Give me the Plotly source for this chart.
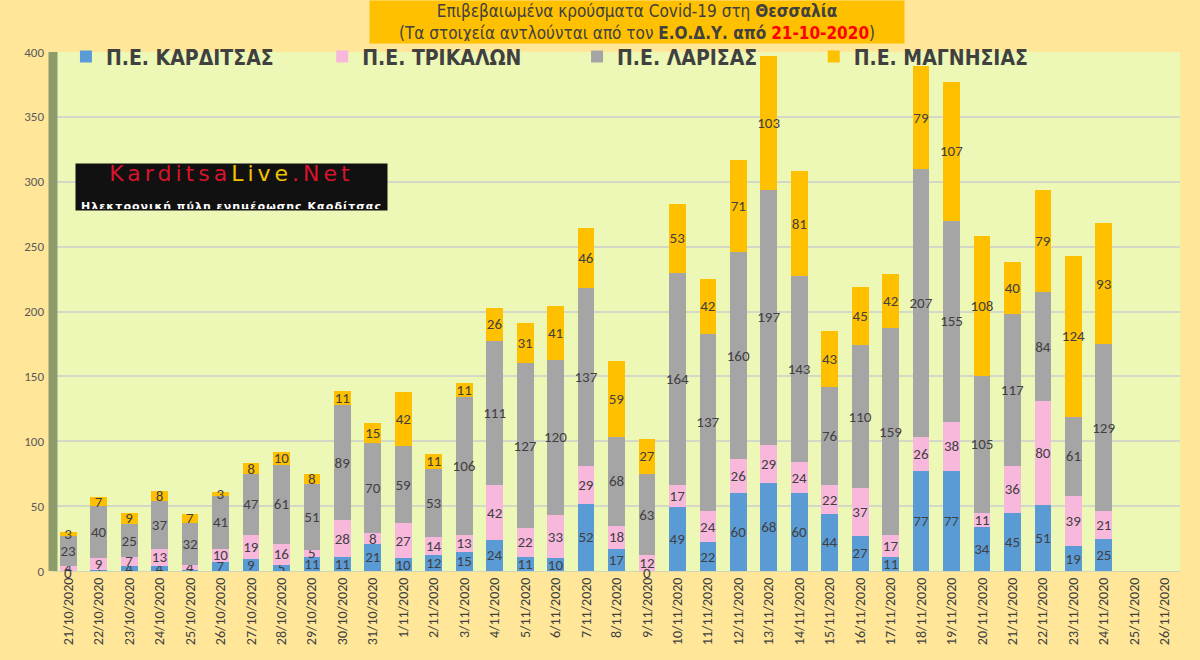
import plotly.graph_objects as go

dates = ["21/10/2020","22/10/2020","23/10/2020","24/10/2020","25/10/2020","26/10/2020","27/10/2020",
         "28/10/2020","29/10/2020","30/10/2020","31/10/2020","1/11/2020","2/11/2020","3/11/2020",
         "4/11/2020","5/11/2020","6/11/2020","7/11/2020","8/11/2020","9/11/2020","10/11/2020",
         "11/11/2020","12/11/2020","13/11/2020","14/11/2020","15/11/2020","16/11/2020","17/11/2020",
         "18/11/2020","19/11/2020","20/11/2020","21/11/2020","22/11/2020","23/11/2020","24/11/2020",
         "25/11/2020","26/11/2020"]

karditsa = [0,1,4,4,1,7,9,5,11,11,21,10,12,15,24,11,10,52,17,0,49,22,60,68,60,44,27,11,77,77,34,45,51,19,25,None,None]
trikala  = [4,9,7,13,4,10,19,16,5,28,8,27,14,13,42,22,33,29,18,12,17,24,26,29,24,22,37,17,26,38,11,36,80,39,21,None,None]
larisa   = [23,40,25,37,32,41,47,61,51,89,70,59,53,106,111,127,120,137,68,63,164,137,160,197,143,76,110,159,207,155,105,117,84,61,129,None,None]
magnisia = [3,7,9,8,7,3,8,10,8,11,15,42,11,11,26,31,41,46,59,27,53,42,71,103,81,43,45,42,79,107,108,40,79,124,93,None,None]

series_names = ["Π.Ε. ΚΑΡΔΙΤΣΑΣ", "Π.Ε. ΤΡΙΚΑΛΩΝ", "Π.Ε. ΛΑΡΙΣΑΣ", "Π.Ε. ΜΑΓΝΗΣΙΑΣ"]
series_values = [karditsa, trikala, larisa, magnisia]
series_colors = ["#5B9BD5", "#F7B8DC", "#A5A5A5", "#FFC000"]
legend_x = [0.0115, 0.2389, 0.465, 0.675]

NARROW = "Liberation Sans Narrow, DejaVu Sans Condensed, Arial Narrow, sans-serif"
LABEL_FONT = "Calibri, Carlito, Liberation Sans Narrow, sans-serif"

fig = go.Figure()
legend_ids = ["legend", "legend2", "legend3", "legend4"]
for i, (name, vals, col) in enumerate(zip(series_names, series_values, series_colors)):
    fig.add_trace(go.Bar(
        x=dates, y=vals, name=name, legend=legend_ids[i],
        marker=dict(color=col, line=dict(width=0)),
        text=[("" if v is None else str(v)) for v in vals],
        textposition="inside", insidetextanchor="middle", textangle=0,
        textfont=dict(family=LABEL_FONT, size=15, color="#404040"),
        hoverinfo="x+y+name",
    ))

legend_common = dict(orientation="h", y=1.03, xanchor="left", yanchor="top",
                     bgcolor="rgba(0,0,0,0)",
                     font=dict(family=NARROW, size=21, color="#404040", weight="bold"))
layout_legends = {}
for lid, lx in zip(legend_ids, legend_x):
    layout_legends[lid] = dict(x=lx, **legend_common)

fig.update_layout(
    width=1200, height=660,
    barmode="stack", bargap=0.45,
    paper_bgcolor="#FFE699", plot_bgcolor="#EDF8B6",
    margin=dict(l=53, r=20, t=52, b=89),
    uniformtext=dict(minsize=15, mode="show"),
    showlegend=True,
    xaxis=dict(type="category", tickangle=-90, showgrid=False, zeroline=False,
               tickfont=dict(family=LABEL_FONT, size=14, color="#404040"),
               showline=True, linecolor="#D0D6B8", ticks=""),
    yaxis=dict(range=[0, 400], dtick=50, showgrid=True, gridcolor="#D3D9C6", gridwidth=2,
               zeroline=False, ticks="", ticklabelstandoff=8,
               tickfont=dict(family="Calibri, Carlito, Liberation Sans, sans-serif", size=13, color="#595959")),
    **layout_legends,
)

# zero-value labels (not drawn by plotly for zero-height segments)
for d, v in zip(dates, karditsa):
    if v == 0:
        fig.add_annotation(x=d, y=0, xref="x", yref="y", text="0", showarrow=False,
                           yanchor="middle", yshift=-2,
                           font=dict(family=LABEL_FONT, size=15, color="#404040"))

# left wall (3D look)
fig.add_shape(type="rect", xref="paper", yref="paper", x0=-0.004, x1=0.004, y0=0, y1=1.0,
              fillcolor="#8E9C6C", line=dict(width=0), layer="above")

# Title box
fig.add_annotation(
    xref="paper", yref="paper", x=0.5185, y=1.1, xanchor="center", yanchor="top",
    text=("Επιβεβαιωμένα κρούσματα Covid-19 στη <b>Θεσσαλία</b><br>"
          "(Τα στοιχεία αντλούνται από τον <b>Ε.Ο.Δ.Υ. από</b> "
          "<b><span style='color:#FF0000'>21-10-2020</span></b>)"),
    showarrow=False, bgcolor="#FFC000", width=530, height=38, borderpad=2,
    font=dict(family=NARROW, size=17, color="#404040"), align="center",
)

# Logo box
fig.add_annotation(
    xref="paper", yref="paper", x=0.0195, y=0.786, xanchor="left", yanchor="top",
    text=("<span style='color:#D8142C;letter-spacing:4px'>Karditsa</span>"
          "<span style='color:#F2C200;letter-spacing:4px'>Live</span>"
          "<span style='color:#D8142C;letter-spacing:4px'>.Net</span><br>"
          "<span style='font-size:11px;color:#FFFFFF;letter-spacing:1px'><b>Ηλεκτρονική πύλη ενημέρωσης Καρδίτσας</b></span>"),
    showarrow=False, bgcolor="#111111", width=309, height=44, borderpad=1,
    font=dict(family="DejaVu Sans, sans-serif", size=22, color="#D8142C"), align="center",
)

fig.write_html("out.html", config={"displayModeBar": False},
               post_script="document.body.style.margin='0';document.body.style.overflow='hidden';")
